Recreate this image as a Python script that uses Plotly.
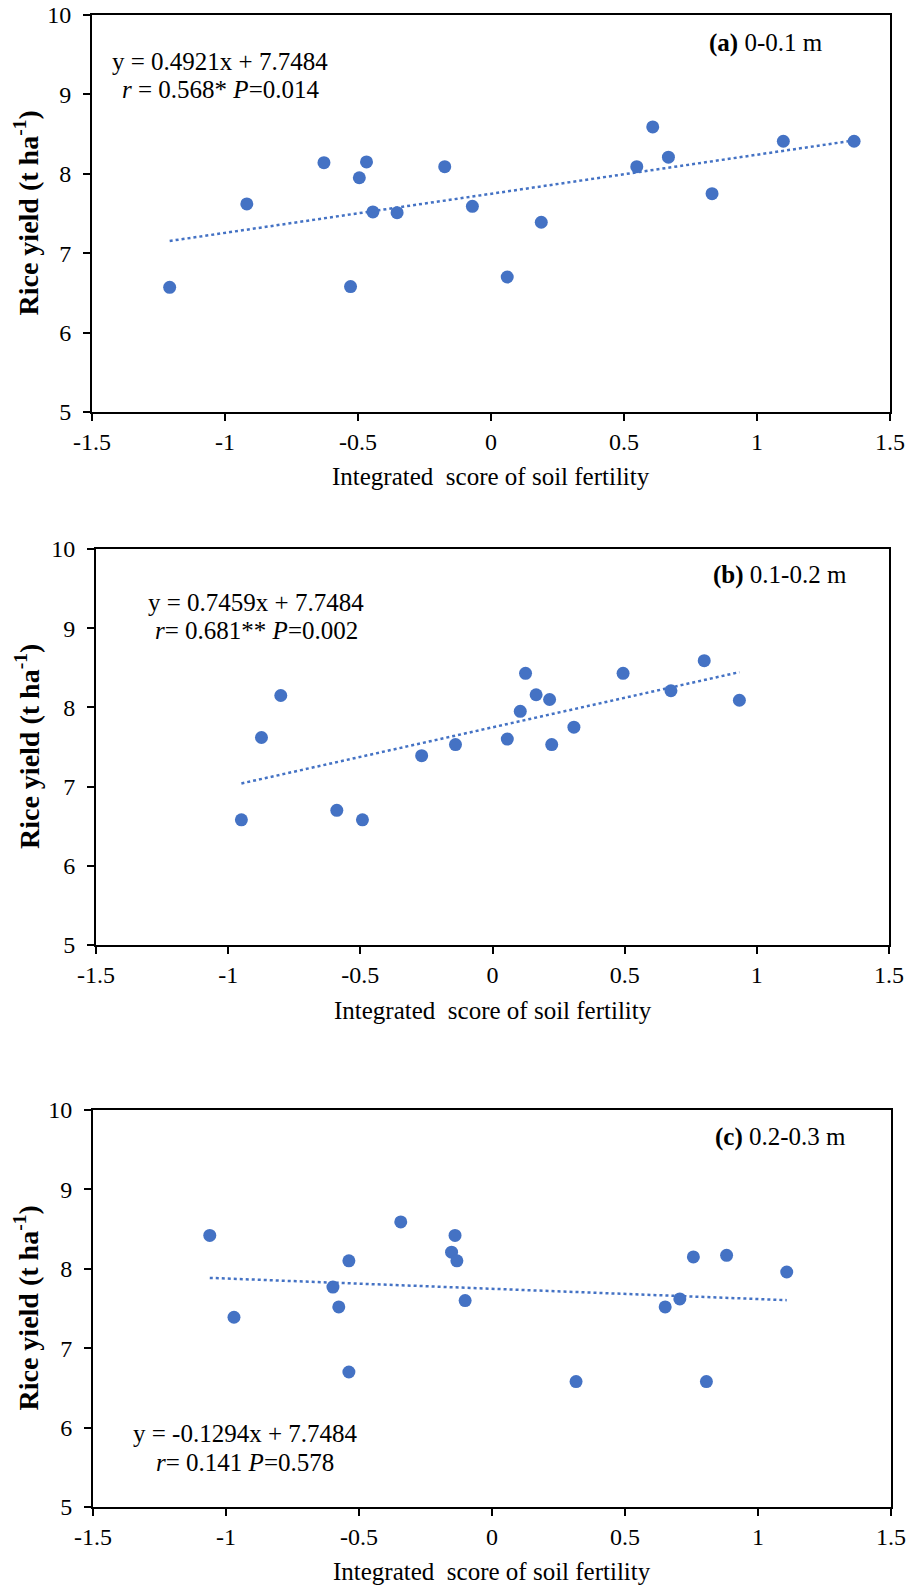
import plotly.graph_objects as go

W, H = 920, 1586

# panel (a) 0-0.1 m
x_a = [-1.208, -0.918, -0.628, -0.468, -0.495, -0.528, -0.444, -0.353, -0.174,
       -0.070, 0.061, 0.189, 0.548, 0.608, 0.667, 0.831, 1.099, 1.365]
y_a = [6.57, 7.62, 8.14, 8.15, 7.95, 6.58, 7.52, 7.51, 8.09,
       7.59, 6.70, 7.39, 8.09, 8.59, 8.21, 7.75, 8.41, 8.41]

# panel (b) 0.1-0.2 m
x_b = [-0.950, -0.874, -0.801, -0.589, -0.492, -0.268, -0.140, 0.056, 0.105,
       0.125, 0.165, 0.216, 0.224, 0.308, 0.494, 0.675, 0.801, 0.934]
y_b = [6.58, 7.62, 8.15, 6.70, 6.58, 7.39, 7.53, 7.60, 7.95,
       8.43, 8.16, 8.10, 7.53, 7.75, 8.43, 8.21, 8.59, 8.09]

# panel (c) 0.2-0.3 m
x_c = [-1.061, -0.970, -0.598, -0.576, -0.538, -0.538, -0.343, -0.152, -0.139,
       -0.132, -0.101, 0.316, 0.651, 0.706, 0.757, 0.806, 0.882, 1.108]
y_c = [8.42, 7.39, 7.77, 7.52, 8.10, 6.70, 8.59, 8.21, 8.42,
       8.10, 7.60, 6.58, 7.52, 7.62, 8.15, 6.58, 8.17, 7.96]

slopes = [0.4921, 0.7459, -0.1294]
intercept = 7.7484

equations = ["y = 0.4921x + 7.7484", "y = 0.7459x + 7.7484", "y = -0.1294x + 7.7484"]
stats = ["<i>r</i> = 0.568* <i>P</i>=0.014", "<i>r</i>= 0.681** <i>P</i>=0.002",
         "<i>r</i>= 0.141 <i>P</i>=0.578"]
labels = ["<b>(a)</b> 0-0.1 m", "<b>(b)</b> 0.1-0.2 m", "<b>(c)</b> 0.2-0.3 m"]

x_tickvals = [-1.5, -1, -0.5, 0, 0.5, 1, 1.5]
x_ticktext = ["-1.5", "-1", "-0.5", "0", "0.5", "1", "1.5"]
y_tickvals = [5, 6, 7, 8, 9, 10]

x_title = "Integrated  score of soil fertility"
y_title = "Rice yield (t ha<sup>-1</sup>)"

BLUE = "#4472C4"
FONT = "Liberation Serif"

# plot boxes in pixels: left, right, top, bottom
boxes = [(92, 890, 15, 412), (96, 889, 549, 945), (93, 891, 1110, 1507)]
# text positions in pixels: (eq x, eq y, stats y, label x, label y, xtitle y)
text_pos = [(220, 62, 89, 766, 43, 476),
            (256, 602, 630, 780, 575, 1010),
            (245, 1433, 1462, 780, 1137, 1571)]


def px(v):
    return v / W


def py(v):
    return 1 - v / H


fig = go.Figure()
data = [(x_a, y_a), (x_b, y_b), (x_c, y_c)]
annotations = []

for i, (xs, ys) in enumerate(data):
    n = "" if i == 0 else str(i + 1)
    xa, ya = "x" + n, "y" + n

    fig.add_trace(go.Scatter(
        x=xs, y=ys, mode="markers",
        marker=dict(color=BLUE, size=13),
        xaxis=xa, yaxis=ya, showlegend=False
    ))

    # linear trend line over the data range
    x0, x1 = min(xs), max(xs)
    fig.add_trace(go.Scatter(
        x=[x0, x1],
        y=[slopes[i] * x0 + intercept, slopes[i] * x1 + intercept],
        mode="lines",
        line=dict(color=BLUE, width=2.5, dash="dot"),
        xaxis=xa, yaxis=ya, showlegend=False
    ))

    l, r, t, b = boxes[i]
    axis_common = dict(
        showline=True, linecolor="black", linewidth=2, mirror=True,
        ticks="outside", ticklen=7, tickwidth=1.5, tickcolor="black",
        showgrid=False, zeroline=False, automargin=False,
        tickfont=dict(family=FONT, size=24, color="black"),
    )
    fig.update_layout({
        "xaxis" + n: dict(
            domain=[px(l), px(r)], anchor=ya, range=[-1.5, 1.5],
            tickvals=x_tickvals, ticktext=x_ticktext, ticklabelstandoff=0,
            **axis_common
        ),
        "yaxis" + n: dict(
            domain=[py(b), py(t)], anchor=xa, range=[5, 10],
            tickvals=y_tickvals, ticklabelstandoff=7,
            **axis_common
        ),
    })

    eqx, eqy, sty, lbx, lby, xty = text_pos[i]
    annotations += [
        dict(text=equations[i], x=px(eqx), y=py(eqy)),
        dict(text=stats[i], x=px(eqx), y=py(sty)),
        dict(text=labels[i], x=px(lbx), y=py(lby)),
        dict(text=x_title, x=px((l + r) / 2), y=py(xty)),
        dict(text="<b>" + y_title + "</b>", x=px(27), y=py((t + b) / 2),
             textangle=-90, font=dict(family=FONT, size=28, color="black")),
    ]

for a in annotations:
    a.update(xref="paper", yref="paper", xanchor="center", yanchor="middle",
             showarrow=False)
    a.setdefault("font", dict(family=FONT, size=25, color="black"))

fig.update_layout(
    width=W, height=H,
    margin=dict(l=0, r=0, t=0, b=0),
    paper_bgcolor="white", plot_bgcolor="white",
    annotations=annotations,
    showlegend=False
)

# drop the default page margin so the figure fills the window
fig.write_html("out.html", config={"displayModeBar": False},
               post_script="document.body.style.margin='0';"
                           "document.body.style.overflow='hidden';")
